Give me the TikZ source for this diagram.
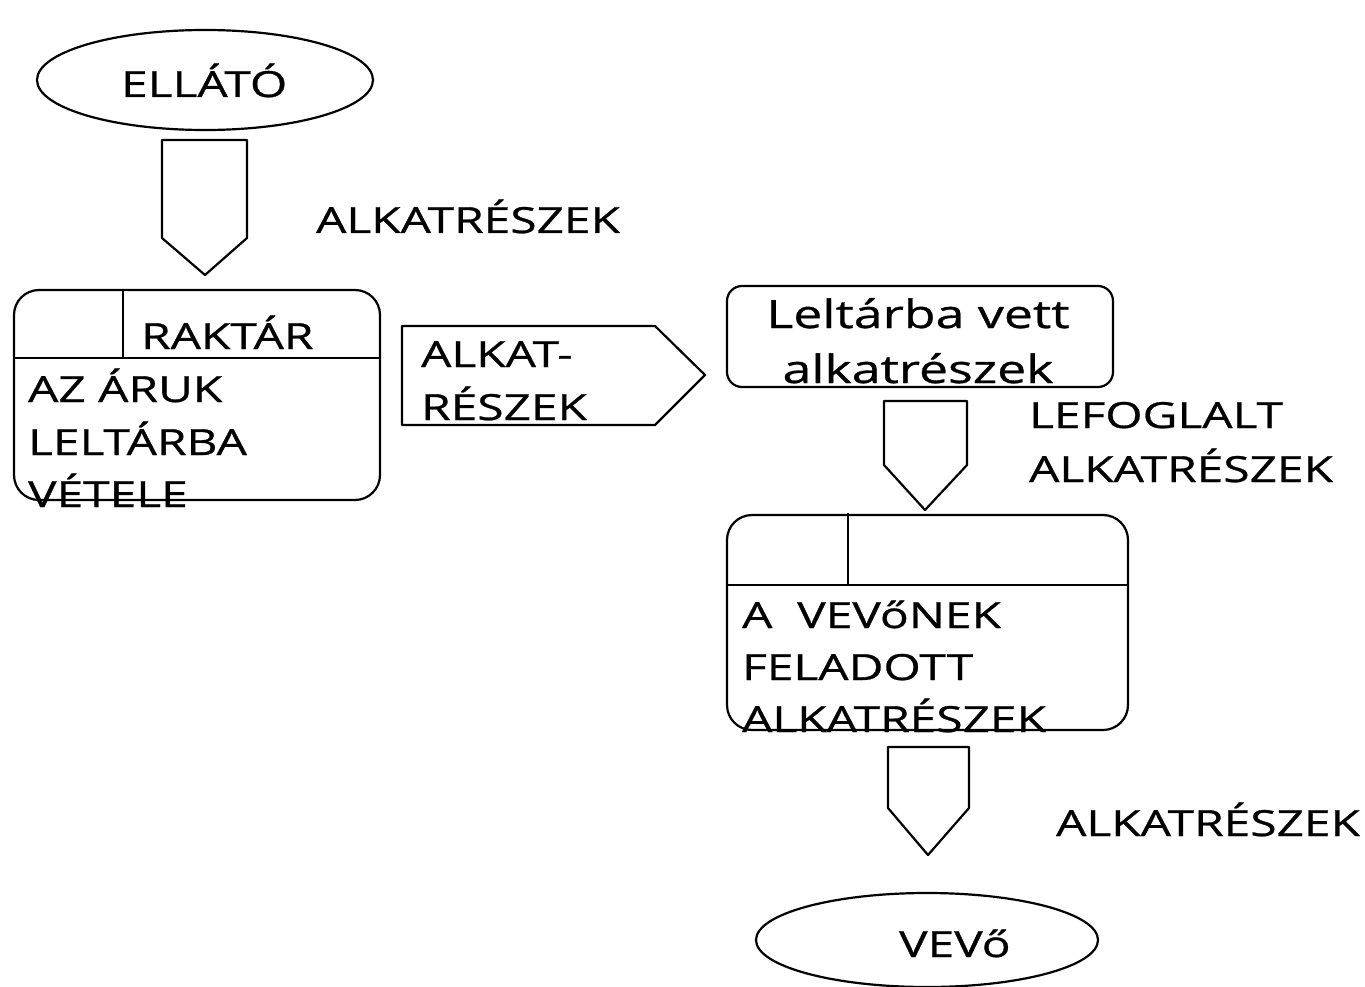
\documentclass[tikz,border=0pt]{standalone}
\usepackage{fontspec}
\setmainfont[FakeStretch=1.33,FakeBold=0.8]{Open Sans}
\begin{document}
\begin{tikzpicture}[x=1pt,y=-1pt,
  line width=2.2pt, line join=round,
  txt/.style={inner sep=0pt, anchor=base west, font=\fontsize{36}{40}\selectfont},
  big/.style={inner sep=0pt, anchor=base, font=\fontsize{39}{44}\selectfont}]
\useasboundingbox (0,0) rectangle (1365,987);
% terminators
\draw (205,80) ellipse [x radius=168, y radius=50];
\node[txt] (ellato) at (120,97) {ELLÁTÓ};
\draw (927,940) ellipse [x radius=171, y radius=47];
\node[txt] (vevo) at (898,957) {VEVő};
% arrow 1 (down)
\draw (162,140) -- (247,140) -- (247,238) -- (205,275) -- (162,238) -- cycle;
\node[txt] (l1) at (315,233) {ALKATRÉSZEK};
% process box 1
\draw[rounded corners=25] (14,290) rectangle (380,500);
\draw (14,358) -- (380,358);
\draw (123,290) -- (123,358);
\node[txt] (raktar) at (140,349) {RAKTÁR};
\node[txt] (p1a) at (27,402) {AZ ÁRUK};
\node[txt] (p1b) at (27,455) {LELTÁRBA};
\node[txt] (p1c) at (27,507) {VÉTELE};
% arrow right
\draw (402,326) -- (655,326) -- (705,375) -- (655,425) -- (402,425) -- cycle;
\node[txt] (a2a) at (420,367) {ALKAT-};
\node[txt] (a2b) at (420,420) {RÉSZEK};
% store box
\draw[rounded corners=15] (727,286) rectangle (1113,387);
\node[big] (s1) at (918,328) {Leltárba vett};
\node[big] (s2) at (918,383) {alkatrészek};
% arrow 2
\draw (884,401) -- (967,401) -- (967,465) -- (925,510) -- (884,465) -- cycle;
\node[txt] (l2a) at (1028,428) {LEFOGLALT};
\node[txt] (l2b) at (1028,482) {ALKATRÉSZEK};
% process box 2
\draw[rounded corners=25] (727,515) rectangle (1128,730);
\draw (727,585) -- (1128,585);
\draw (848,513) -- (848,585);
\node[txt] (p2a) at (741,628) {A\ \ VEVőNEK};
\node[txt] (p2b) at (741,680) {FELADOTT};
\node[txt] (p2c) at (741,732) {ALKATRÉSZEK};
% arrow 3
\draw (888,747) -- (969,747) -- (969,808) -- (928,855) -- (888,808) -- cycle;
\node[txt] (l3) at (1055,836) {ALKATRÉSZEK};
\end{tikzpicture}
\end{document}
